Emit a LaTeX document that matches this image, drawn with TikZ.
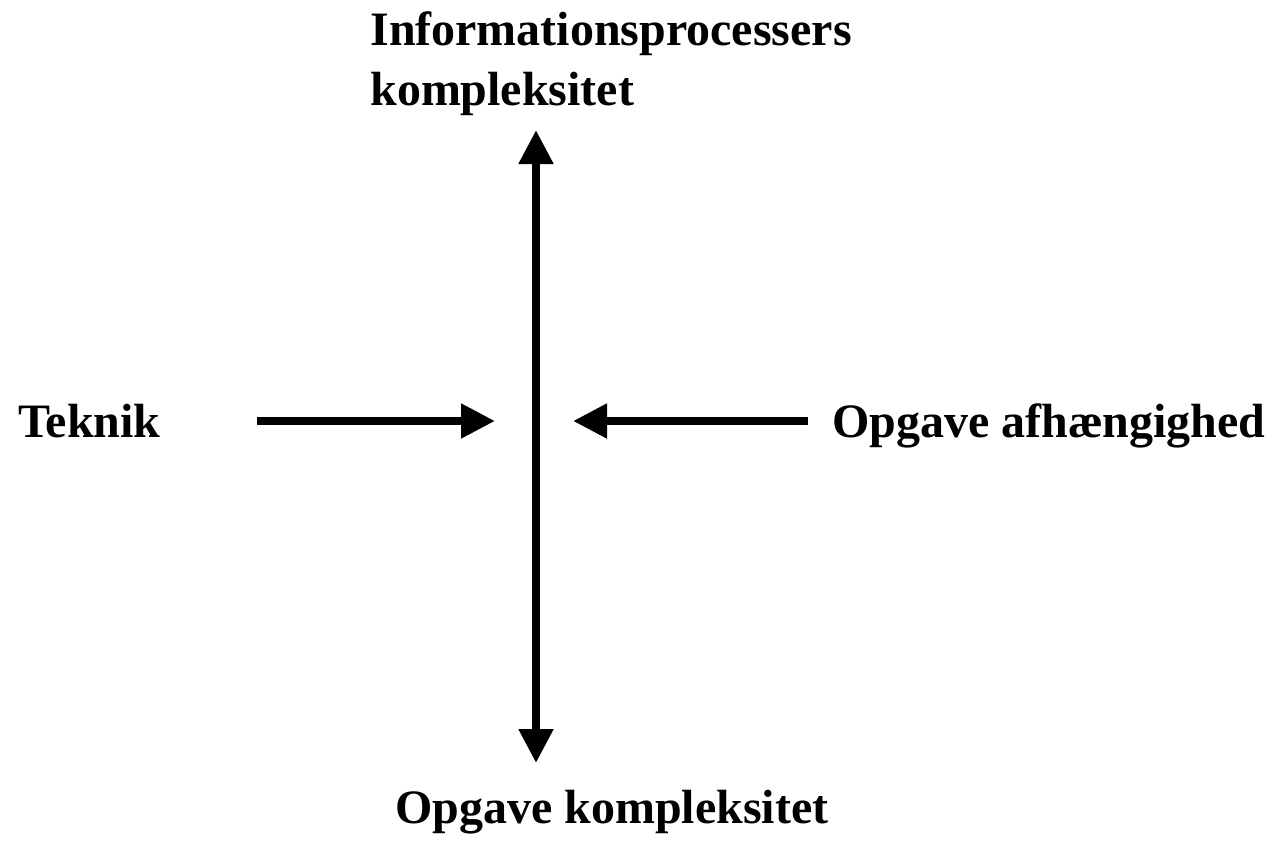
\documentclass[tikz,border=0pt]{standalone}
\usepackage{fontspec}
\setmainfont{Liberation Serif}
\usetikzlibrary{arrows.meta}

\begin{document}
\begin{tikzpicture}[
    tekst/.style={inner sep=0pt, anchor=base west, font=\bfseries\fontsize{27.3}{34}\selectfont},
    pil/.style={line width=0.16cm, -{Triangle[length=0.68cm,width=0.66cm]}},
    dobbeltpil/.style={line width=0.16cm, {Triangle[length=0.68cm,width=0.66cm]}-{Triangle[length=0.68cm,width=0.66cm]}}
  ]
    \useasboundingbox (0,0) rectangle (25.44,-16.88);
    \node[tekst, align=left] (I) at (7.4,-2.1) {Informationsprocessers\\kompleksitet};
    \node[tekst] (O) at (7.9,-16.46) {Opgave kompleksitet};
    \node[tekst] (T) at (0.36,-8.74) {Teknik};
    \node[tekst] (A) at (16.64,-8.74) {Opgave afhængighed};
    \coordinate (top) at (10.72,-2.6);
    \coordinate (bund) at (10.72,-15.26);
    \coordinate (v1) at (5.14,-8.42);
    \coordinate (v2) at (9.9,-8.42);
    \coordinate (h1) at (16.16,-8.42);
    \coordinate (h2) at (11.46,-8.42);
    \draw[dobbeltpil] (top) -- (bund);
    \draw[pil] (v1) -- (v2);
    \draw[pil] (h1) -- (h2);
  \end{tikzpicture}
\end{document}
